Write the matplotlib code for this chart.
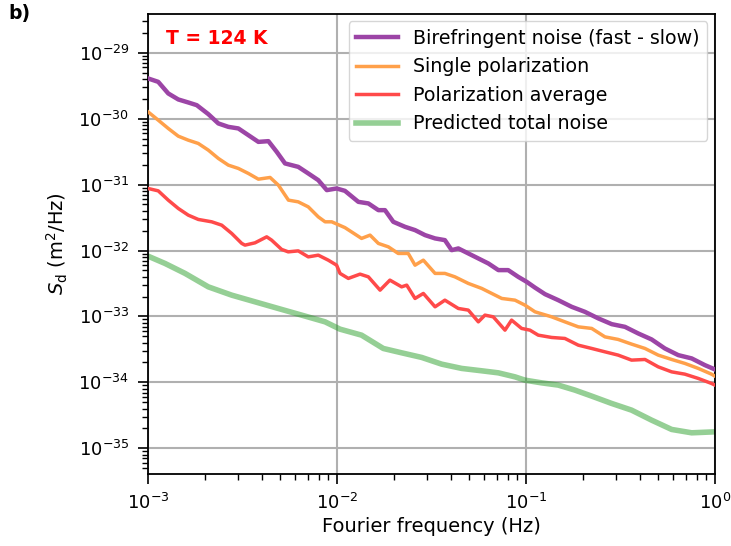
import numpy as np
import matplotlib
matplotlib.use("Agg")
import matplotlib.pyplot as plt
from matplotlib.ticker import LogLocator, NullFormatter

# log10 of frequency (Hz) and log10 of S_d (m^2/Hz)
bire_logf = [-3.000, -2.946, -2.893, -2.840, -2.787, -2.742, -2.681, -2.628, -2.575, -2.522,
             -2.469, -2.416, -2.363, -2.319, -2.275, -2.205, -2.152, -2.099, -2.054, -2.002,
             -1.958, -1.887, -1.834, -1.781, -1.746, -1.702, -1.640, -1.587, -1.534, -1.481,
             -1.429, -1.393, -1.358, -1.305, -1.252, -1.199, -1.146, -1.094, -1.041, -0.996,
             -0.952, -0.899, -0.829, -0.758, -0.688, -0.617, -0.546, -0.476, -0.406, -0.335,
             -0.265, -0.194, -0.123, -0.053, 0.000]
bire_logs = [-29.388, -29.440, -29.616, -29.707, -29.753, -29.794, -29.930, -30.071, -30.123, -30.147,
             -30.249, -30.351, -30.340, -30.502, -30.678, -30.730, -30.830, -30.932, -31.083, -31.058,
             -31.094, -31.261, -31.285, -31.387, -31.387, -31.564, -31.640, -31.690, -31.766, -31.816,
             -31.842, -31.994, -31.968, -32.044, -32.120, -32.196, -32.297, -32.297, -32.399, -32.475,
             -32.563, -32.662, -32.753, -32.854, -32.930, -33.030, -33.117, -33.158, -33.258, -33.349,
             -33.486, -33.587, -33.637, -33.739, -33.804]

single_logf = [-3.000, -2.946, -2.893, -2.840, -2.787, -2.734, -2.681, -2.628, -2.575, -2.522,
               -2.469, -2.416, -2.354, -2.310, -2.257, -2.205, -2.152, -2.099, -2.063, -2.028,
               -1.958, -1.870, -1.825, -1.781, -1.728, -1.676, -1.623, -1.587, -1.543, -1.481,
               -1.429, -1.376, -1.305, -1.234, -1.181, -1.128, -1.058, -1.005, -0.952, -0.864,
               -0.794, -0.723, -0.652, -0.582, -0.512, -0.441, -0.370, -0.300, -0.229, -0.159,
               -0.088, -0.018, 0.000]
single_logs = [-29.895, -30.021, -30.147, -30.264, -30.325, -30.375, -30.476, -30.602, -30.704, -30.754,
               -30.830, -30.917, -30.891, -31.008, -31.235, -31.261, -31.337, -31.489, -31.564, -31.564,
               -31.652, -31.816, -31.766, -31.892, -31.944, -32.044, -32.044, -32.222, -32.146, -32.347,
               -32.347, -32.399, -32.499, -32.575, -32.651, -32.727, -32.753, -32.829, -32.930, -33.006,
               -33.082, -33.158, -33.182, -33.310, -33.349, -33.420, -33.486, -33.587, -33.653, -33.713,
               -33.789, -33.876, -33.906]

avg_logf = [-3.000, -2.946, -2.893, -2.840, -2.787, -2.734, -2.663, -2.610, -2.557, -2.504,
            -2.487, -2.434, -2.372, -2.346, -2.293, -2.258, -2.205, -2.152, -2.099, -2.046,
            -2.002, -1.984, -1.940, -1.878, -1.834, -1.772, -1.720, -1.658, -1.631, -1.587,
            -1.543, -1.481, -1.429, -1.358, -1.305, -1.252, -1.217, -1.173, -1.111, -1.076,
            -1.023, -0.979, -0.935, -0.864, -0.794, -0.723, -0.652, -0.582, -0.512, -0.441,
            -0.370, -0.300, -0.229, -0.159, -0.088, -0.018, 0.000]
avg_logs = [-31.058, -31.094, -31.235, -31.361, -31.463, -31.528, -31.564, -31.615, -31.741, -31.892,
            -31.918, -31.883, -31.792, -31.842, -31.983, -32.020, -32.005, -32.096, -32.070, -32.146,
            -32.222, -32.347, -32.423, -32.358, -32.399, -32.601, -32.449, -32.551, -32.525, -32.727,
            -32.651, -32.854, -32.753, -32.879, -32.904, -33.082, -32.980, -33.006, -33.208, -33.056,
            -33.182, -33.208, -33.284, -33.319, -33.334, -33.436, -33.486, -33.537, -33.587, -33.663,
            -33.653, -33.765, -33.841, -33.876, -33.941, -34.017, -34.042]

pred_logf = [-3.000, -2.910, -2.804, -2.681, -2.557, -2.434, -2.311, -2.187, -2.063, -1.984,
             -1.870, -1.755, -1.658, -1.552, -1.446, -1.340, -1.234, -1.146, -1.058, -1.005,
             -0.917, -0.829, -0.741, -0.652, -0.547, -0.441, -0.335, -0.229, -0.123, 0.000]
pred_logs = [-32.085, -32.196, -32.347, -32.551, -32.677, -32.778, -32.879, -32.980, -33.082, -33.193,
             -33.284, -33.486, -33.552, -33.622, -33.724, -33.789, -33.825, -33.856, -33.917, -33.967,
             -34.008, -34.042, -34.118, -34.209, -34.320, -34.422, -34.574, -34.715, -34.766, -34.751]

labels = ["Birefringent noise (fast - slow)", "Single polarization",
          "Polarization average", "Predicted total noise"]
x_decades = [-3, -2, -1, 0]
y_decades = [-35, -34, -33, -32, -31, -30, -29]

fig = plt.figure(figsize=(7.31, 5.46), dpi=100)
ax = fig.add_axes([0.2025, 0.132, 0.7755, 0.843])

def p(v):
    return 10.0 ** np.asarray(v, dtype=float)

ax.plot(p(bire_logf), p(bire_logs), color="#9c45a6", lw=3.2, label=labels[0], zorder=5)
ax.plot(p(single_logf), p(single_logs), color="#ffa04a", lw=2.5, label=labels[1], zorder=4)
ax.plot(p(avg_logf), p(avg_logs), color="#ff4a4a", lw=2.5, label=labels[2], zorder=3)
ax.plot(p(pred_logf), p(pred_logs), color="#2ca02c", alpha=0.5, lw=4.0, label=labels[3], zorder=2)

ax.set_xscale("log")
ax.set_yscale("log")
ax.set_xlim(1e-3, 1e0)
ax.set_ylim(10 ** -35.39, 10 ** -28.405)

ax.set_xticks(p(x_decades))
ax.set_yticks(p(y_decades))
ax.yaxis.set_minor_locator(LogLocator(base=10, subs=np.arange(2, 10), numticks=100))
ax.yaxis.set_minor_formatter(NullFormatter())
ax.xaxis.set_minor_locator(LogLocator(base=10, subs=np.arange(2, 10), numticks=100))
ax.xaxis.set_minor_formatter(NullFormatter())

ax.tick_params(axis="both", which="major", labelsize=13, length=7.5, width=1.2)
ax.tick_params(axis="y", which="major", pad=6)
ax.tick_params(axis="x", which="major", pad=6)
ax.tick_params(axis="both", which="minor", length=4, width=1.0)
for s in ax.spines.values():
    s.set_linewidth(1.3)

ax.grid(True, which="major", color="#b0b0b0", lw=1.5)
ax.set_axisbelow(True)

ax.set_xlabel("Fourier frequency (Hz)", fontsize=14, labelpad=3)
ax.set_ylabel(r"$S_\mathrm{d}$ (m$^2$/Hz)", fontsize=14, labelpad=6)

ax.legend(loc="upper right", fontsize=13.7, handlelength=2.2, borderaxespad=0.4)

ax.text(0.032, 0.947, "T = 124 K", transform=ax.transAxes, color="red",
        fontsize=13.5, fontweight="bold", va="center", ha="left")
fig.text(0.011, 0.975, "b)", fontsize=13.5, fontweight="bold", va="center", ha="left")

fig.savefig("out.png", dpi=100)
